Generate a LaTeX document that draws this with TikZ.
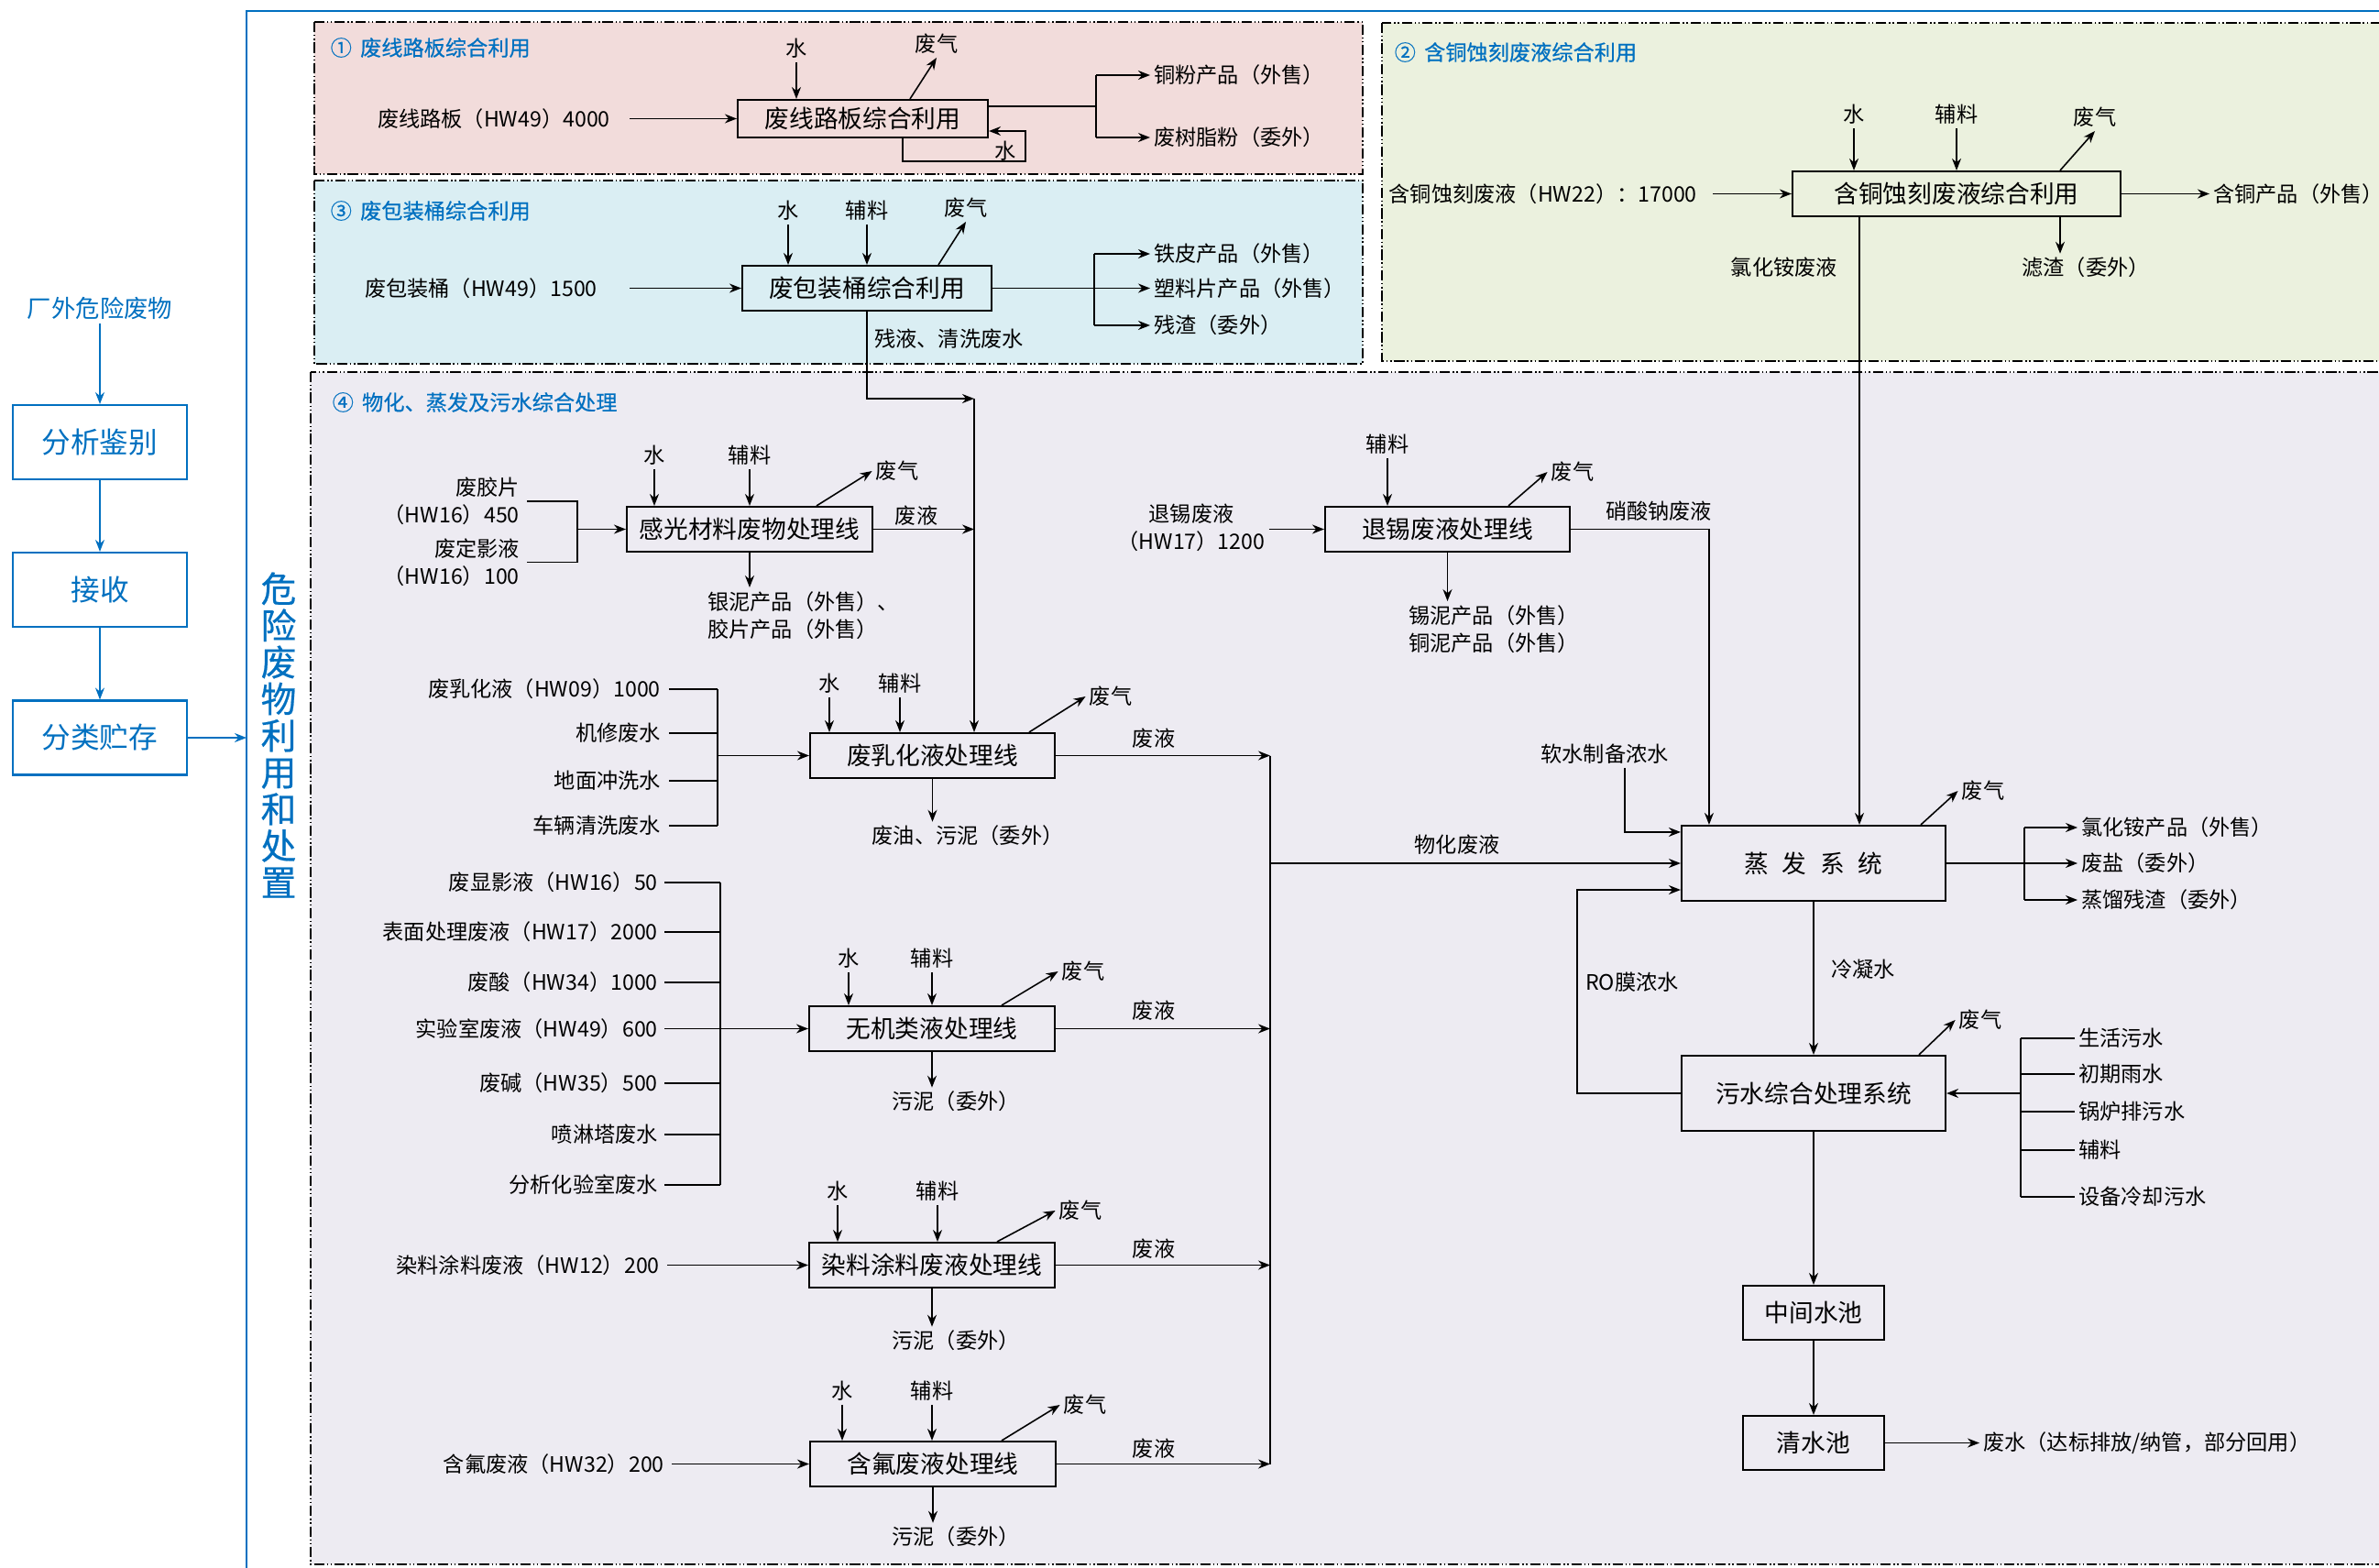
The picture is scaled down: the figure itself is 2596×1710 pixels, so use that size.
\documentclass[tikz,border=0pt]{standalone}
\usepackage{fontspec}
\setmainfont{Noto Sans CJK SC}
\newfontfamily\medfont{Noto Sans CJK SC}[FakeBold=0.5]
\usetikzlibrary{arrows.meta}
\definecolor{FlowBlue}{HTML}{0070C0}
\definecolor{ZoneRose}{HTML}{F2DCDB}
\definecolor{ZoneSky}{HTML}{DAEEF3}
\definecolor{ZoneLeaf}{HTML}{EBF1DE}
\definecolor{ZoneLilac}{HTML}{EDEBF2}
\newcommand{\lblsize}{\fontsize{6.6pt}{8.6pt}\selectfont}
\newcommand{\boxsize}{\fontsize{7.6pt}{9pt}\selectfont}

\begin{document}
\begin{tikzpicture}[
    x=0.1mm, y=-0.1mm,
    zone/.style={line width=0.7pt, dash pattern=on 3.2pt off 0.8pt on 0.4pt off 0.8pt on 0.4pt off 0.8pt},
    proc/.style={draw, line width=0.6pt, inner sep=0pt, font=\boxsize},
    lbl/.style={inner sep=1pt, font=\lblsize},
    ttl/.style={inner sep=0pt, anchor=west, font=\medfont\lblsize, text=FlowBlue},
    flowbox/.style={draw=FlowBlue, line width=0.6pt, minimum width=19mm, minimum height=8.1mm,
      text=FlowBlue, font=\fontsize{9pt}{10pt}\selectfont},
    arr/.style={-{Stealth[length=1.3mm,width=1mm]}, line width=0.45pt},
    ln/.style={line width=0.45pt},
    barr/.style={arr, FlowBlue}
  ]
  \useasboundingbox (0,0) rectangle (2596,1710);

  % zones
  \draw[zone, fill=ZoneRose] (343,24) rectangle (1487,190);
  \draw[zone, fill=ZoneSky] (343,197) rectangle (1487,397);
  \draw[zone, fill=ZoneLeaf] (1508,25) rectangle (2640,394);
  \draw[zone, fill=ZoneLilac] (339,406) rectangle (2640,1707);
  \draw[FlowBlue, line width=0.6pt] (269,1760) |- (2640,12);

  % intake
  \node[lbl, text=FlowBlue, font=\fontsize{7.5pt}{9pt}\selectfont] (src) at (109,336) {厂外危险废物};
  \node[flowbox] (k1) at (109,482.5) {分析鉴别};
  \node[flowbox] (k2) at (109,643.5) {接收};
  \node[flowbox] (k3) at (109,805) {分类贮存};
  \draw[barr] (src) -- (k1);
  \draw[barr] (k1) -- (k2);
  \draw[barr] (k2) -- (k3);
  \coordinate (hub) at (269,805);
  \draw[barr] (k3) -- (hub);
  \node[text=FlowBlue, align=center, inner sep=0pt, font=\medfont\fontsize{11pt}{11.4pt}\selectfont] (vt) at (304,802)
    {危\\险\\废\\物\\利\\用\\和\\处\\置};

  % zone 1
  \node[ttl] (t1) at (360,52) {①\hspace{0.4em}废线路板综合利用};
  \node[proc, minimum width=27.3mm, minimum height=4.1mm] (b1) at (941.5,129.5) {废线路板综合利用};
  \node[lbl, anchor=east] (i1) at (670,129.5) {废线路板（HW49）4000};
  \draw[arr, shorten <=1.7mm] (i1) -- (b1);
  \node[lbl] (w1) at (869,53) {水};
  \node[lbl] (g1) at (1022,48) {废气};
  \draw[arr] (w1) -- (w1 |- b1.north);
  \draw[arr] ([xshift=5.15mm]b1.north) -- (g1.south);
  \coordinate (j1) at (1196,116);
  \node[lbl, anchor=west] (o11) at (1255,82) {铜粉产品（外售）};
  \node[lbl, anchor=west] (o12) at (1255,150) {废树脂粉（委外）};
  \draw[ln] (b1.east |- j1) -- (j1);
  \draw[ln] (j1 |- o11) -- (j1 |- o12);
  \draw[arr] (j1 |- o11) -- (o11.west);
  \draw[arr] (j1 |- o12) -- (o12.west);
  \coordinate (lp1) at (1119,176);
  \draw[arr] ([xshift=4.35mm]b1.south) |- (lp1) |- ([yshift=-1.35mm]b1.east);
  \node[lbl] (lw1) at (1097,165) {水};

  % zone 3
  \node[ttl] (t3) at (360,230) {③\hspace{0.4em}废包装桶综合利用};
  \node[proc, minimum width=27.2mm, minimum height=4.9mm] (b3) at (946,314.5) {废包装桶综合利用};
  \node[lbl, anchor=east] (i3) at (656,314.5) {废包装桶（HW49）1500};
  \draw[arr, shorten <=3.1mm] (i3) -- (b3);
  \node[lbl] (w3) at (860,230) {水};
  \node[lbl] (a3) at (946,230) {辅料};
  \node[lbl] (g3) at (1054,227) {废气};
  \draw[arr] (w3) -- (w3 |- b3.north);
  \draw[arr] (a3) -- (a3 |- b3.north);
  \draw[arr] ([xshift=7.8mm]b3.north) -- (g3.south);
  \coordinate (j3) at (1194,314.5);
  \node[lbl, anchor=west] (o31) at (1255,277) {铁皮产品（外售）};
  \node[lbl, anchor=west] (o32) at (1255,314.5) {塑料片产品（外售）};
  \node[lbl, anchor=west] (o33) at (1255,355) {残渣（委外）};
  \draw[ln] (b3.east) -- (j3);
  \draw[ln] (j3 |- o31) -- (j3 |- o33);
  \foreach \o in {o31,o32,o33} \draw[arr] (j3 |- \o) -- (\o.west);
  \node[lbl, anchor=west] (r3) at (950,370) {残液、清洗废水};
  \coordinate (m1) at (1063,435);
  \draw[arr] (b3.south) |- (m1);

  % zone 2
  \node[ttl] (t2) at (1521,57) {②\hspace{0.4em}含铜蚀刻废液综合利用};
  \node[proc, minimum width=35.8mm, minimum height=4.9mm] (b2) at (2135,211.5) {含铜蚀刻废液综合利用};
  \node[lbl, anchor=east] (i2) at (1856,211.5) {含铜蚀刻废液（HW22）：17000};
  \draw[arr, shorten <=1.3mm] (i2) -- (b2);
  \node[lbl] (w2) at (2023,125) {水};
  \node[lbl] (a2) at (2135,125) {辅料};
  \node[lbl] (g2) at (2286,128) {废气};
  \draw[arr] (w2) -- (w2 |- b2.north);
  \draw[arr] (a2) -- (a2 |- b2.north);
  \draw[arr] ([xshift=11.3mm]b2.north) -- (g2.south);
  \node[lbl, anchor=west] (o2) at (2411,211.5) {含铜产品（外售）};
  \draw[arr] (b2) -- (o2);
  \node[lbl] (f2) at (2276,292) {滤渣（委外）};
  \draw[arr] ([xshift=11.3mm]b2.south) -- ([xshift=11.3mm]b2.south |- f2.north);
  \node[lbl, anchor=east] (n2) at (2009,292) {氯化铵废液};

  % zone 4
  \node[ttl] (t4) at (362,439) {④\hspace{0.4em}物化、蒸发及污水综合处理};
  \node[proc, minimum width=26.8mm, minimum height=4.9mm] (b4) at (818,577.5) {感光材料废物处理线};
  \node[lbl, anchor=east, align=right] (p1) at (571,547) {废胶片\\（HW16）450};
  \node[lbl, anchor=east, align=right] (p2) at (571,613.5) {废定影液\\（HW16）100};
  \coordinate (j4) at (630,577.5);
  \draw[ln] ([xshift=0.4mm]p1.east) -| (j4) |- ([xshift=0.4mm]p2.east);
  \draw[arr] (j4) -- (b4.west);
  \node[lbl] (w4) at (714,497) {水};
  \node[lbl] (a4) at (818,497) {辅料};
  \node[lbl] (g4) at (979,514) {废气};
  \draw[arr] (w4) -- (w4 |- b4.north);
  \draw[arr] (a4) -- (a4 |- b4.north);
  \draw[arr] ([xshift=7.3mm]b4.north) -- (g4.west);
  \draw[arr] (b4.east) -- (b4.east -| m1);
  \node[lbl] (y4) at (1000,563) {废液};
  \node[lbl, anchor=north west, align=left] (s4) at (768,641) {银泥产品（外售）、\\胶片产品（外售）};
  \draw[arr] (b4.south) -- (b4.south |- s4.north);

  \node[proc, minimum width=26.7mm, minimum height=4.9mm] (b5) at (1017.5,824.5) {废乳化液处理线};
  \draw[arr] (m1) -- (m1 |- b5.north);
  \node[lbl, anchor=east] (q51) at (725,752) {废乳化液（HW09）1000};
  \node[lbl, anchor=east] (q52) at (725,800) {机修废水};
  \node[lbl, anchor=east] (q53) at (725,852) {地面冲洗水};
  \node[lbl, anchor=east] (q54) at (725,901) {车辆清洗废水};
  \coordinate (j5) at (783,824.5);
  \foreach \q in {q51,q52,q53,q54} \draw[ln] ([xshift=0.5mm]\q.east) -- (\q.east -| j5);
  \draw[ln] (q51.east -| j5) -- (q54.east -| j5);
  \draw[arr] (j5) -- (b5.west);
  \node[lbl] (w5) at (905,746) {水};
  \node[lbl] (a5) at (982,746) {辅料};
  \node[lbl] (g5) at (1212,760) {废气};
  \draw[arr] (w5) -- (w5 |- b5.north);
  \draw[arr] (a5) -- (a5 |- b5.north);
  \draw[arr] ([xshift=10.55mm]b5.north) -- (g5.west);
  \coordinate (c4) at (1386,942);
  \draw[arr] (b5.east) -- (b5.east -| c4);
  \node[lbl] (y5) at (1259,806) {废液};
  \node[lbl] (s5) at (1056,912) {废油、污泥（委外）};
  \draw[arr] (b5.south) -- (b5.south |- s5.north);

  \node[proc, minimum width=26.8mm, minimum height=4.9mm] (b6) at (1017,1122.5) {无机类液处理线};
  \foreach \n/\y/\t in {1/963/废显影液（HW16）50, 2/1017/表面处理废液（HW17）2000,
      3/1072/废酸（HW34）1000, 4/1122.5/实验室废液（HW49）600, 5/1182/废碱（HW35）500,
      6/1238/喷淋塔废水, 7/1293/分析化验室废水}
    \node[lbl, anchor=east] (q6\n) at (722,\y) {\t};
  \coordinate (j6) at (786,1122.5);
  \foreach \n in {1,...,7} \draw[ln] ([xshift=0.3mm]q6\n.east) -- (q6\n.east -| j6);
  \draw[ln] (q61.east -| j6) -- (q67.east -| j6);
  \draw[arr] (j6) -- (b6.west);
  \node[lbl] (w6) at (926,1046) {水};
  \node[lbl] (a6) at (1017,1046) {辅料};
  \node[lbl] (g6) at (1182,1060) {废气};
  \draw[arr] (w6) -- (w6 |- b6.north);
  \draw[arr] (a6) -- (a6 |- b6.north);
  \draw[arr] ([xshift=7.6mm]b6.north) -- (g6.west);
  \draw[arr] (b6.east) -- (b6.east -| c4);
  \node[lbl] (y6) at (1259,1103) {废液};
  \node[lbl] (s6) at (1043,1202) {污泥（委外）};
  \draw[arr] (b6.south) -- (b6.south |- s6.north);

  \node[proc, minimum width=26.8mm, minimum height=4.9mm] (b7) at (1017,1380.5) {染料涂料废液处理线};
  \node[lbl, anchor=east] (q7) at (724,1380.5) {染料涂料废液（HW12）200};
  \draw[arr, shorten <=0.4mm] (q7) -- (b7);
  \node[lbl] (w7) at (914,1300) {水};
  \node[lbl] (a7) at (1023,1300) {辅料};
  \node[lbl] (g7) at (1179,1321) {废气};
  \draw[arr] (w7) -- (w7 |- b7.north);
  \draw[arr] (a7) -- (a7 |- b7.north);
  \draw[arr] ([xshift=7.1mm]b7.north) -- (g7.west);
  \draw[arr] (b7.east) -- (b7.east -| c4);
  \node[lbl] (y7) at (1259,1363) {废液};
  \node[lbl] (s7) at (1043,1463) {污泥（委外）};
  \draw[arr] (b7.south) -- (b7.south |- s7.north);

  \node[proc, minimum width=26.8mm, minimum height=4.9mm] (b8) at (1018,1597.5) {含氟废液处理线};
  \node[lbl, anchor=east] (q8) at (729,1597.5) {含氟废液（HW32）200};
  \draw[arr, shorten <=0.4mm] (q8) -- (b8);
  \node[lbl] (w8) at (919,1518) {水};
  \node[lbl] (a8) at (1017,1518) {辅料};
  \node[lbl] (g8) at (1184,1533) {废气};
  \draw[arr] (w8) -- (w8 |- b8.north);
  \draw[arr] (a8) -- (a8 |- b8.north);
  \draw[arr] ([xshift=7.5mm]b8.north) -- (g8.west);
  \draw[arr] (b8.east) -- (b8.east -| c4);
  \node[lbl] (y8) at (1259,1581) {废液};
  \node[lbl] (s8) at (1043,1677) {污泥（委外）};
  \draw[arr] (b8.south) -- (b8.south |- s8.north);
  \draw[ln] (b5.east -| c4) -- (b8.east -| c4);
  \node[lbl] (y0) at (1590,922) {物化废液};

  % tin stripping line
  \node[proc, minimum width=26.7mm, minimum height=4.9mm] (b9) at (1579.5,577.5) {退锡废液处理线};
  \node[lbl, align=center] (i9) at (1300,576) {退锡废液\\（HW17）1200};
  \draw[arr] (i9.east |- b9) -- (b9.west);
  \node[lbl] (a9) at (1514,485) {辅料};
  \node[lbl] (g9) at (1716,515) {废气};
  \draw[arr] (a9) -- (a9 |- b9.north);
  \draw[arr] ([xshift=6.65mm]b9.north) -- (g9.west);
  \node[lbl, anchor=north west, align=left] (s9) at (1533,656) {锡泥产品（外售）\\铜泥产品（外售）};
  \draw[arr] (b9.south) -- (b9.south |- s9.north);
  \node[lbl] (n9) at (1810,558) {硝酸钠废液};

  % evaporation and wastewater
  \node[proc, minimum width=28.8mm, minimum height=8.2mm] (ev) at (1979,942)
    {蒸\hspace{0.55em}发\hspace{0.55em}系\hspace{0.55em}统};
  \draw[arr] (b9.east) -| ([xshift=3.1mm]ev.north west);
  \draw[arr] ([xshift=-10.6mm]b2.south) -- ([xshift=-10.6mm]b2.south |- ev.north);
  \node[lbl] (sw) at (1751,823) {软水制备浓水};
  \draw[arr] ([xshift=2.2mm]sw.south) |- ([yshift=-0.8mm]ev.north west);
  \draw[arr] (c4) -- (c4 -| ev.west);
  \node[lbl] (g10) at (2164,863) {废气};
  \draw[arr] ([xshift=11.7mm]ev.north) -- (g10.west);
  \coordinate (j10) at (2209,942);
  \node[lbl, anchor=west] (o101) at (2267,903) {氯化铵产品（外售）};
  \node[lbl, anchor=west] (o102) at (2267,942) {废盐（委外）};
  \node[lbl, anchor=west] (o103) at (2267,982) {蒸馏残渣（委外）};
  \draw[ln] (ev.east) -- (j10);
  \draw[ln] (j10 |- o101) -- (j10 |- o103);
  \foreach \o in {o101,o102,o103} \draw[arr] (j10 |- \o) -- (\o.west);

  \node[proc, minimum width=28.8mm, minimum height=8.2mm] (wt) at (1979,1193) {污水综合处理系统};
  \draw[arr] (ev) -- (wt);
  \node[lbl, anchor=west] (cw) at (1994,1058) {冷凝水};
  \coordinate (ro) at (1721,971);
  \draw[arr] (wt.west) -| (ro) -- (ro -| ev.west);
  \node[lbl, anchor=west] (rl) at (1726,1072) {RO膜浓水};
  \node[lbl] (g11) at (2161,1113) {废气};
  \draw[arr] ([xshift=11.5mm]wt.north) -- (g11.west);
  \coordinate (j11) at (2205,1193);
  \foreach \n/\y/\t in {1/1133/生活污水, 2/1172/初期雨水, 3/1213/锅炉排污水, 4/1255/辅料, 5/1306/设备冷却污水}
    \node[lbl, anchor=west] (u\n) at (2264,\y) {\t};
  \foreach \n in {1,...,5} \draw[ln] (u\n.west) -- (u\n.west -| j11);
  \draw[ln] (u1.west -| j11) -- (u5.west -| j11);
  \draw[arr] (j11) -- (wt.east);

  \node[proc, minimum width=15.4mm, minimum height=5.9mm] (mp) at (1979,1432.5) {中间水池};
  \node[proc, minimum width=15.4mm, minimum height=5.9mm] (cp) at (1979,1574.5) {清水池};
  \draw[arr] (wt) -- (mp);
  \draw[arr] (mp) -- (cp);
  \node[lbl, anchor=west] (ow) at (2160,1574.5) {废水（达标排放/纳管，部分回用）};
  \draw[arr] (cp) -- (ow);
\end{tikzpicture}
\end{document}
